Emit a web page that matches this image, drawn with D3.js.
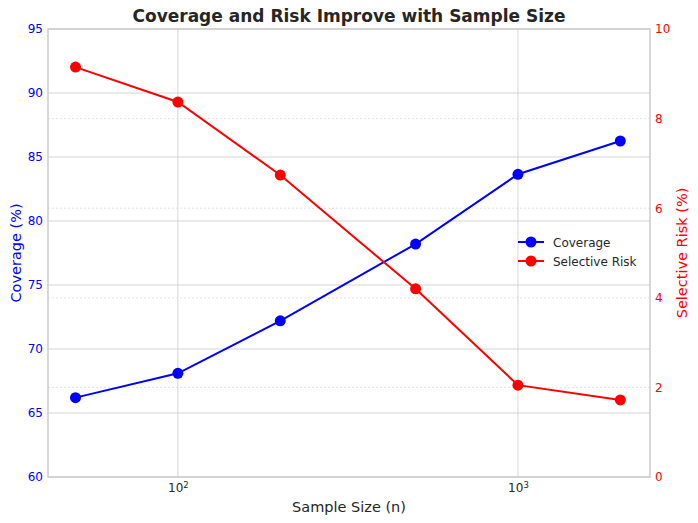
<!DOCTYPE html>
<html><head><meta charset="utf-8">
<script src="https://cdn.jsdelivr.net/npm/d3@7"></script>
<style>body{margin:0;background:#fff;} svg{display:block;font-family:"DejaVu Sans",sans-serif;}</style>
</head><body>
<svg id="c" width="698" height="523"></svg>
<script>
const sampleSizes = [50, 100, 200, 500, 1000, 2000];
const coverage = [66.2, 68.1, 72.2, 78.2, 83.65, 86.25];
const selectiveRisk = [9.15, 8.37, 6.74, 4.2, 2.05, 1.72];
const leftTicks = [60, 65, 70, 75, 80, 85, 90, 95];
const rightTicks = [0, 2, 4, 6, 8, 10];
const xTicks = [100, 1000];

const svg = d3.select("#c");
const L = 48, R = 650, T = 29, B = 477;
const x = d3.scaleLog().domain([41.5, 2445]).range([L, R]);
const yL = d3.scaleLinear().domain([60, 95]).range([B, T]);
const yR = d3.scaleLinear().domain([0, 10]).range([B, T]);

// grids
svg.append("g").selectAll("line").data(rightTicks.filter(d => d > 0 && d < 10)).join("line")
  .attr("x1", L).attr("x2", R).attr("y1", d => yR(d)).attr("y2", d => yR(d))
  .attr("stroke", "#d0d0d0").attr("stroke-width", 0.6).attr("stroke-dasharray", "2,2");
svg.append("g").selectAll("line").data(leftTicks).join("line")
  .attr("x1", L).attr("x2", R).attr("y1", d => yL(d)).attr("y2", d => yL(d))
  .attr("stroke", "#d5d5d5").attr("stroke-width", 1);
svg.append("g").selectAll("line").data(xTicks).join("line")
  .attr("x1", d => x(d)).attr("x2", d => x(d)).attr("y1", T).attr("y2", B)
  .attr("stroke", "#d5d5d5").attr("stroke-width", 1);

// spines
svg.append("rect").attr("x", L).attr("y", T).attr("width", R - L).attr("height", B - T)
  .attr("fill", "none").attr("stroke", "#cccccc").attr("stroke-width", 1.5);

// axes
const axL = svg.append("g").attr("transform", `translate(${L},0)`)
  .call(d3.axisLeft(yL).tickValues(leftTicks).tickSize(0).tickPadding(5));
axL.select(".domain").remove();
axL.selectAll("text").attr("fill", "#0000ff").style("font-size", "12px").style("font-family", "DejaVu Sans");

const axR = svg.append("g").attr("transform", `translate(${R},0)`)
  .call(d3.axisRight(yR).tickValues(rightTicks).tickSize(0).tickPadding(5));
axR.select(".domain").remove();
axR.selectAll("text").attr("fill", "#ff0000").style("font-size", "12px").style("font-family", "DejaVu Sans");

const axX = svg.append("g").attr("transform", `translate(0,${B})`)
  .call(d3.axisBottom(x).tickValues(xTicks).tickSize(0).tickPadding(6).tickFormat(() => ""));
axX.select(".domain").remove();
axX.selectAll(".tick text").each(function(d) {
  const t = d3.select(this).attr("fill", "#262626").style("font-size", "12px").style("font-family", "DejaVu Sans");
  t.append("tspan").text("10");
  t.append("tspan").text(Math.round(Math.log10(d))).attr("dy", "-0.45em").style("font-size", "8.5px");
});

// lines
const lineC = d3.line().x((d, i) => x(sampleSizes[i])).y(d => yL(d));
const lineR = d3.line().x((d, i) => x(sampleSizes[i])).y(d => yR(d));
svg.append("path").datum(coverage).attr("d", lineC).attr("fill", "none").attr("stroke", "#0000ff").attr("stroke-width", 2);
svg.append("g").selectAll("circle").data(coverage).join("circle")
  .attr("cx", (d, i) => x(sampleSizes[i])).attr("cy", d => yL(d)).attr("r", 5.5).attr("fill", "#0000ff");
svg.append("path").datum(selectiveRisk).attr("d", lineR).attr("fill", "none").attr("stroke", "#ff0000").attr("stroke-width", 2);
svg.append("g").selectAll("circle").data(selectiveRisk).join("circle")
  .attr("cx", (d, i) => x(sampleSizes[i])).attr("cy", d => yR(d)).attr("r", 5.5).attr("fill", "#ff0000");

// title & labels
svg.append("text").attr("x", 349).attr("y", 22).attr("text-anchor", "middle")
  .style("font-size", "17px").style("font-weight", "bold").attr("fill", "#262626")
  .text("Coverage and Risk Improve with Sample Size");
svg.append("text").attr("x", 349).attr("y", 512).attr("text-anchor", "middle")
  .style("font-size", "14.5px").attr("fill", "#262626").text("Sample Size (n)");
svg.append("text").attr("transform", `translate(21,${(T + B) / 2}) rotate(-90)`).attr("text-anchor", "middle")
  .style("font-size", "14.5px").attr("fill", "#0000ff").text("Coverage (%)");
svg.append("text").attr("transform", `translate(687,${(T + B) / 2}) rotate(-90)`).attr("text-anchor", "middle")
  .style("font-size", "14.5px").attr("fill", "#ff0000").text("Selective Risk (%)");

// legend
const legend = [{name: "Coverage", color: "#0000ff"}, {name: "Selective Risk", color: "#ff0000"}];
const lg = svg.append("g").attr("transform", "translate(517,242)");
legend.forEach((d, i) => {
  const g = lg.append("g").attr("transform", `translate(0,${i * 19})`);
  g.append("line").attr("x1", 1).attr("x2", 27).attr("stroke", d.color).attr("stroke-width", 2);
  g.append("circle").attr("cx", 14).attr("r", 5.5).attr("fill", d.color);
  g.append("text").attr("x", 36).attr("y", 4.5).style("font-size", "12px").attr("fill", "#262626").text(d.name);
});
</script>
</body></html>
